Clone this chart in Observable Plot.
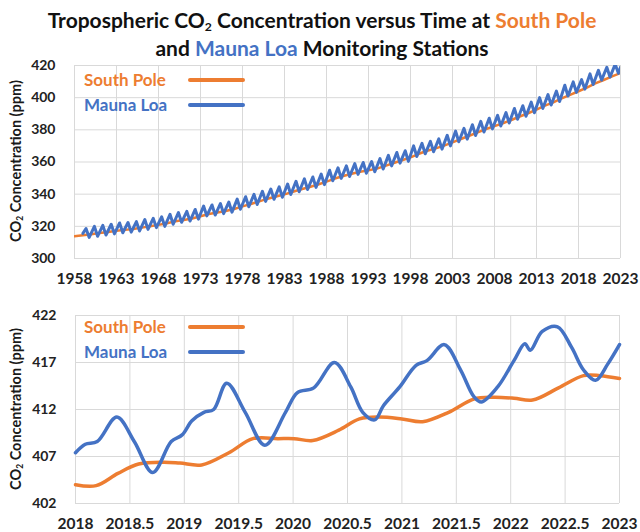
<!DOCTYPE html>
<html>
<head>
<meta charset="utf-8">
<script src="https://cdn.jsdelivr.net/npm/d3@7"></script>
<script src="https://cdn.jsdelivr.net/npm/@observablehq/plot@0.6"></script>
<style>
  body { margin: 0; background: #fff; font-family: Lato, "Open Sans", sans-serif; }
  #wrap { position: relative; width: 640px; height: 532px; overflow: hidden; background: #fff; }
  .abs { position: absolute; }
  .title { left: 0; width: 644px; text-align: center; font-weight: bold; font-size: 21px; line-height: 24px; color: #111; white-space: nowrap; z-index: 5; }
  .sub { font-size: 0.58em; position: relative; top: 0.22em; line-height: 1; }
  .ylab { font-weight: bold; font-size: 14.5px; color: #1a1a1a; white-space: nowrap; transform: translate(-50%, -50%) rotate(-90deg); }
  .leg { font-weight: bold; font-size: 17px; line-height: 20px; white-space: nowrap; z-index: 5; }
  .legline { height: 3.5px; border-radius: 2px; z-index: 5; }
</style>
</head>
<body>
<div id="wrap">
  <div id="topChart" class="abs" style="left:0;top:52px"></div>
  <div id="botChart" class="abs" style="left:0;top:300px"></div>
  <div class="abs title" style="top:8px">Tropospheric CO<span class="sub">2</span> Concentration versus Time at <span style="color:#ED7D31">South Pole</span></div>
  <div class="abs title" style="top:36px">and <span style="color:#4472C4">Mauna Loa</span> Monitoring Stations</div>
  <div class="abs ylab" style="left:15px;top:161px">CO<span class="sub">2</span> Concentration (ppm)</div>
  <div class="abs ylab" style="left:15px;top:409px">CO<span class="sub">2</span> Concentration (ppm)</div>
  <div id="legends"></div>
</div>
<script>
const orange = "#ED7D31";
const blue = "#4472C4";
const gridColor = "#d9d9d9";

// ---- Tick labels ----
const topXTicks = [1958, 1963, 1968, 1973, 1978, 1983, 1988, 1993, 1998, 2003, 2008, 2013, 2018, 2023];
const topYTicks = [300, 320, 340, 360, 380, 400, 420];
const botXTicks = [2018, 2018.5, 2019, 2019.5, 2020, 2020.5, 2021, 2021.5, 2022, 2022.5, 2023];
const botYTicks = [402, 407, 412, 417, 422];

// ---- Top panel: South Pole (start-of-year values, 1958-2023) ----
const spYears = d3.range(1958, 2024);
const spValues = [
  313.8, 314.4, 315.1, 315.8, 316.5, 317.2, 317.8, 318.4, 319.2, 320.1,
  320.9, 321.9, 323.1, 324.0, 324.9, 326.3, 327.7, 328.6, 329.5, 330.8,
  332.4, 333.9, 335.5, 337.2, 338.6, 339.9, 341.5, 343.1, 344.5, 346.0,
  347.8, 349.7, 351.3, 352.7, 353.9, 354.8, 355.9, 357.6, 359.4, 361.1,
  362.9, 365.1, 367.0, 368.5, 370.2, 372.2, 374.3, 376.3, 378.4, 380.5,
  382.3, 384.1, 386.1, 388.3, 390.3, 392.6, 395.0, 397.1, 399.5, 401.8,
  404.0, 406.3, 408.9, 411.0, 413.2, 415.3
];

// ---- Top panel: Mauna Loa seasonal maxima (May) and minima (Oct), 1959-2022 ----
const mlYears = d3.range(1959, 2023);
const mlMay = [
  318.6, 320.0, 320.6, 321.3, 322.1, 322.4, 322.9, 324.2, 325.0, 325.9,
  327.5, 328.6, 329.3, 330.5, 332.6, 333.3, 334.2, 335.1, 336.9, 338.4,
  339.9, 341.8, 343.2, 344.5, 346.3, 348.0, 349.5, 350.7, 352.5, 354.9,
  356.4, 357.6, 359.0, 359.7, 360.3, 362.1, 364.1, 365.9, 367.0, 370.0,
  371.6, 372.8, 374.4, 376.6, 379.2, 380.9, 383.2, 385.3, 387.2, 389.0,
  390.7, 393.3, 395.0, 397.2, 400.0, 401.9, 404.1, 407.7, 409.8, 411.2,
  414.8, 417.0, 418.9, 420.8
];
const mlOct = [
  313.1, 313.8, 314.6, 315.3, 316.0, 316.4, 317.1, 318.1, 319.2, 320.0,
  321.3, 322.5, 323.3, 324.5, 326.5, 327.0, 327.9, 328.8, 330.6, 332.2,
  333.6, 335.5, 336.8, 338.1, 339.8, 341.5, 342.9, 344.2, 345.9, 348.3,
  349.8, 351.0, 352.3, 353.0, 353.9, 355.6, 357.6, 359.3, 360.4, 363.4,
  365.1, 366.4, 368.0, 370.0, 372.6, 374.2, 376.5, 378.6, 380.6, 382.4,
  384.2, 386.6, 388.4, 390.6, 393.3, 395.4, 397.6, 401.0, 403.3, 405.3,
  408.2, 410.9, 412.8, 415.1
];
const mlFirst = { x: 1959.0, y: 315.6 };
const mlLast = { x: 2023.0, y: 418.9 };

// ---- Bottom panel (2018-2023 detail) ----
const spDetailX = [2018.0, 2018.19, 2018.39, 2018.58, 2018.81, 2018.96, 2019.16, 2019.41, 2019.63, 2019.86,
  2020.01, 2020.18, 2020.42, 2020.61, 2020.79, 2021.0, 2021.19, 2021.43, 2021.66, 2021.84,
  2022.03, 2022.2, 2022.44, 2022.67, 2022.82, 2023.0];
const spDetailY = [404.0, 403.9, 405.2, 406.2, 406.4, 406.3, 406.1, 407.4, 408.9, 408.9,
  408.9, 408.7, 409.8, 411.0, 411.2, 411.0, 410.7, 411.7, 413.1, 413.3,
  413.2, 413.0, 414.3, 415.6, 415.6, 415.3];

const mlDetailX = [2018.0, 2018.09, 2018.2, 2018.38, 2018.54, 2018.71, 2018.88, 2018.98, 2019.07, 2019.18,
  2019.27, 2019.39, 2019.56, 2019.74, 2019.93, 2020.04, 2020.19, 2020.38, 2020.53, 2020.64,
  2020.75, 2020.83, 2020.98, 2021.13, 2021.23, 2021.39, 2021.54, 2021.66, 2021.73, 2021.88,
  2022.03, 2022.13, 2022.18, 2022.29, 2022.43, 2022.56, 2022.67, 2022.78, 2022.89, 2023.0];
const mlDetailY = [407.4, 408.3, 408.6, 411.2, 408.6, 405.3, 408.6, 409.3, 410.8, 411.7,
  412.0, 414.8, 411.7, 408.2, 411.7, 413.8, 414.3, 417.0, 414.4, 411.7,
  410.9, 412.4, 414.4, 416.7, 417.2, 418.9, 416.2, 413.4, 412.8, 414.4,
  417.2, 419.0, 418.3, 420.3, 420.8, 418.6, 416.2, 415.1, 416.8, 418.9];

// ---- Build tables ----
const spTop = spYears.map((yr, i) => ({ x: yr, y: spValues[i] }));
const mlTop = [mlFirst];
mlYears.forEach((yr, i) => {
  mlTop.push({ x: yr + 0.37, y: mlMay[i] });
  mlTop.push({ x: yr + 0.75, y: mlOct[i] });
});
mlTop.push(mlLast);
const spBot = spDetailX.map((x, i) => ({ x, y: spDetailY[i] }));
const mlBot = mlDetailX.map((x, i) => ({ x, y: mlDetailY[i] }));

const axisStyle = { fontFamily: "Lato, 'Open Sans', sans-serif", fontSize: "14px", fontWeight: "bold", color: "#222", background: "transparent", overflow: "visible" };

function enlargeX(svg) {
  d3.select(svg).selectAll('g[aria-label^="x-axis"] text').style("font-size", "15.5px");
}

const topPlot = Plot.plot({
  width: 640, height: 246,
  marginTop: 13, marginBottom: 40, marginLeft: 74, marginRight: 20,
  style: axisStyle,
  x: { domain: [1958, 2023], ticks: topXTicks, tickFormat: d => String(d), tickSize: 0, tickPadding: 14, label: null },
  y: { domain: [300, 420], ticks: topYTicks, tickSize: 0, tickPadding: 19, label: null },
  marks: [
    Plot.gridX(topXTicks, { stroke: gridColor, strokeOpacity: 1 }),
    Plot.gridY(topYTicks, { stroke: gridColor, strokeOpacity: 1 }),
    Plot.line(spTop, { x: "x", y: "y", stroke: orange, strokeWidth: 2.5, clip: true }),
    Plot.line(mlTop, { x: "x", y: "y", stroke: blue, strokeWidth: 3, clip: true })
  ]
});
enlargeX(topPlot);
document.getElementById("topChart").appendChild(topPlot);

const botPlot = Plot.plot({
  width: 640, height: 232,
  marginTop: 15, marginBottom: 29, marginLeft: 75, marginRight: 21,
  style: axisStyle,
  x: { domain: [2018, 2023], ticks: botXTicks, tickFormat: d => String(d), tickSize: 0, tickPadding: 14, label: null },
  y: { domain: [402, 422], ticks: botYTicks, tickSize: 0, tickPadding: 19, label: null },
  marks: [
    Plot.gridX(botXTicks, { stroke: gridColor, strokeOpacity: 1 }),
    Plot.gridY(botYTicks, { stroke: gridColor, strokeOpacity: 1 }),
    Plot.line(spBot, { x: "x", y: "y", stroke: orange, strokeWidth: 3.5, curve: "catmull-rom" }),
    Plot.line(mlBot, { x: "x", y: "y", stroke: blue, strokeWidth: 3.5, curve: "catmull-rom" })
  ]
});
enlargeX(botPlot);
document.getElementById("botChart").appendChild(botPlot);

// ---- Legends (inside plot areas) ----
const legendNames = ["South Pole", "Mauna Loa"];
const legendColors = [orange, blue];
const legendRows = [[80, 105], [327, 352]];
const legHost = document.getElementById("legends");
legendRows.forEach(rows => {
  rows.forEach((cy, i) => {
    const t = document.createElement("div");
    t.className = "abs leg";
    t.style.left = "84px";
    t.style.top = (cy - 10) + "px";
    t.style.color = legendColors[i];
    t.textContent = legendNames[i];
    legHost.appendChild(t);
    const l = document.createElement("div");
    l.className = "abs legline";
    l.style.left = "188px";
    l.style.width = "57px";
    l.style.top = (cy - 1.75) + "px";
    l.style.background = legendColors[i];
    legHost.appendChild(l);
  });
});
</script>
</body>
</html>
